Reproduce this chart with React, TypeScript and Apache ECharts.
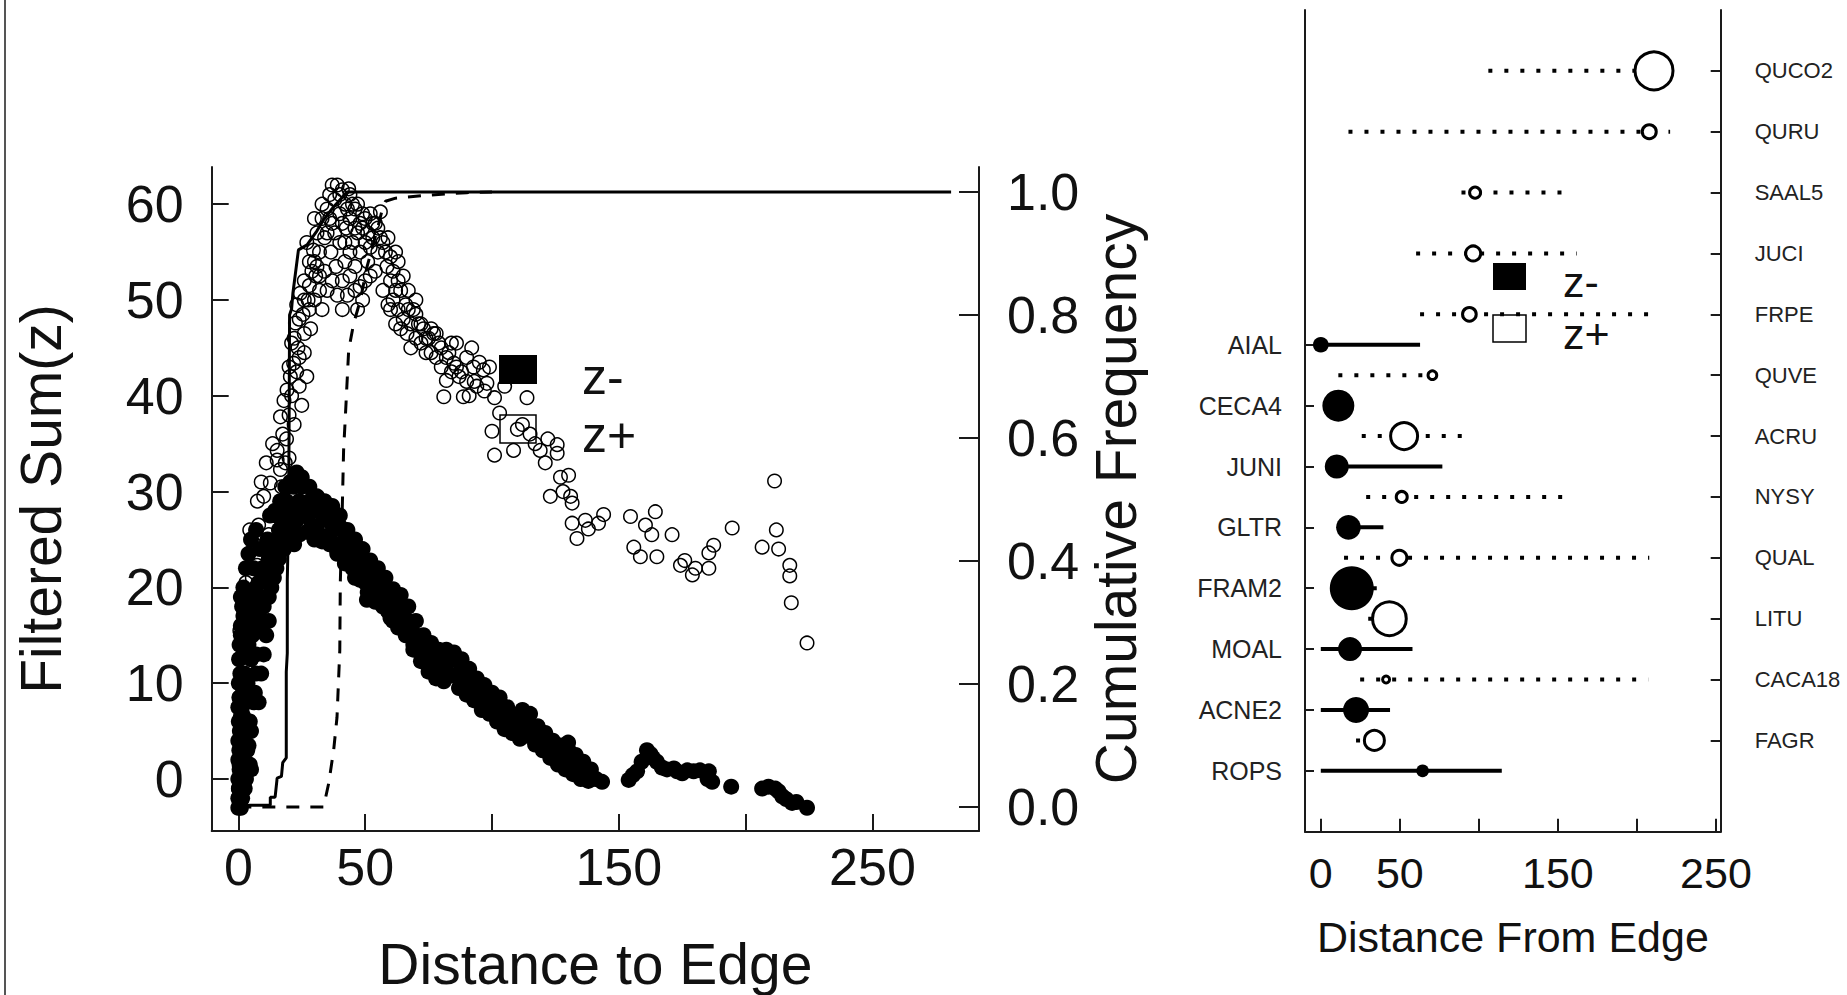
import React, { useEffect, useRef } from 'react';
import * as echarts from 'echarts';

const FONT = "'Liberation Sans', Arial, sans-serif";

// ---------- Left panel data ----------
const zPlusPoints: [number, number][] = [
  [0, -1], [0.3, 1.5], [0.2, 4], [0.8, 6.5], [0.3, 8.5], [1.2, 10.5], [0.5, 12.5], [1.8, 14], [0.6, 15.5], [2.1, 17.6],
  [3.2, 12], [3.8, 15], [5.4, 16.3], [4.5, 18.5], [3, 20.5], [5.5, 21], [7.4, 22.3], [6.3, 24.5], [4.5, 26], [8, 26.5],
  [7.5, 29], [10, 29.5], [9, 31], [12.6, 30.9], [11, 33], [15.3, 33.3], [16.6, 32.3], [13.5, 35], [14, 27.5], [12, 25.5],
  [15.3, 34.3], [16.6, 37.8], [17.5, 36], [18, 39.5], [19.2, 40.6], [20, 38], [20.5, 42], [21.8, 43.4], [21, 45.5], [22.5, 47.6],
  [23.5, 45], [23, 49.5], [24.4, 50.7], [25.5, 48.5], [26, 52], [27.5, 50], [28, 54], [29.6, 55.2], [30.5, 52.5], [31, 57],
  [32, 55], [33, 58.5], [34, 56.5], [19, 35.5], [18.5, 33], [17, 30.5], [20, 33.5], [22, 37], [24, 41], [26, 44.5],
  [28.5, 47], [27, 42], [25, 39],
  [20, 43], [22, 46], [24, 48], [26, 50], [28, 51.5], [30, 54], [24, 44], [26, 46.5], [28, 49], [30, 50],
  [32, 52.5], [33, 49], [35, 51], [37, 52], [21, 40], [23, 42.5],
  [35, 59.5], [36, 61], [37, 58], [38, 60.5], [39, 62], [40, 59], [41, 61.5], [42, 60], [43.5, 61.6], [42.5, 57.5],
  [44, 58.5], [45, 56], [46, 59.5], [47, 57], [48, 55], [49, 57.5], [50, 56], [51, 54], [52, 59], [53, 56.5],
  [54, 58], [55, 55], [56, 59.2], [57, 56], [36.5, 55], [38.5, 53.5], [40, 56], [42, 54], [44, 52.5], [46, 53.5],
  [48, 51.4], [50, 52], [47, 49], [49, 50], [52, 52.5], [54, 53], [34, 53], [32, 51], [39, 50.5], [41, 52],
  [33, 60], [35, 57], [37, 62], [38, 57], [40, 61], [41, 58], [43, 59.5], [44, 61], [45, 60], [46, 57.5],
  [47, 60], [48, 58], [49, 59], [50, 58.5], [51, 57], [52, 55.5], [53, 58], [55, 57.5], [56, 56.5], [58, 55],
  [59, 56.5], [60, 54.5], [61, 53], [62, 55], [63, 52], [30, 58.5], [29, 53], [27, 56], [31, 53.5], [36, 58.5],
  [42, 56], [44, 55], [46, 51], [43, 50.5], [41, 49],
  [58.6, 53.5], [57, 51], [59, 49.5], [60, 52], [61, 50], [62, 47.5], [63, 49], [64, 51], [65, 48], [66.5, 46.5],
  [67, 49], [68, 47.5], [69, 49], [70, 46], [71, 47.5], [72, 45.5], [73, 47], [74, 44.5], [75, 46], [76, 47],
  [77, 46.5], [78, 44], [79, 45.5], [80, 43], [81, 39.9], [82, 41.6], [83, 44.5], [84, 42.5], [85, 43.4], [86, 45.5],
  [87, 42], [88.7, 39.9], [90, 41.5], [92, 45], [92.7, 43], [94, 41], [96.6, 42.7], [98, 41.3], [99, 43], [101, 39.8],
  [103, 38.2], [100, 36.3], [101, 33.8],
  [60, 49], [62, 51], [64, 47], [66, 49.5], [68, 45], [70, 48.5], [72, 47.5], [74, 46], [76, 44.5], [78, 46.5],
  [80, 45], [82, 44], [84, 45.5], [86, 43], [88, 42.5], [90, 44], [91, 40], [93, 41.5], [95, 43.5], [97, 40.5],
  [63, 54], [65, 52.5], [67, 51], [70, 50],
  [105, 41], [108.5, 34.3], [110, 36.5], [113.8, 39.8], [112, 37], [115, 36], [117, 35], [119, 34.3], [121, 33], [122, 35.5],
  [125.7, 34.9], [125.7, 34], [123, 29.5], [127, 31.5], [128, 30], [130.2, 31.7], [131, 29.5], [131.6, 28.8], [131.6, 26.7], [133.5, 25.1],
  [136.8, 27], [138, 26.1], [142, 26.7], [144, 27.6],
  [154.6, 27.4], [164.4, 27.9], [160.5, 26.5], [163, 25.5], [171, 25.5], [155.9, 24.2], [158.5, 23.2], [165, 23.2], [174.3, 22.3], [176, 22.8],
  [179, 21.3], [180.2, 22], [185.5, 22], [185.5, 23.6], [187.4, 24.4], [194.7, 26.2], [211.4, 31.1], [212.1, 26], [206.5, 24.2], [213, 24],
  [217.4, 22.3], [217.4, 21.2], [218, 18.4], [224.2, 14.2],
];

const zMinusPoints: [number, number][] = [
  [0, -3], [0, -2], [0.3, -1], [0, 0], [0.5, 1], [0, 2], [0.4, 3], [0, 4], [0.6, 5], [0.2, 6],
  [0, 7.5], [0.5, 8.5], [0.2, 10], [0.8, 11], [0.3, 12.5], [0.5, 14], [1, 15], [1.5, 0.5], [1.2, 2.5], [1.6, 4.5],
  [1.3, 7], [1.8, 9], [1, 16], [1.5, 18], [2, 20], [2.5, -1], [1.5, -2], [3.5, 3], [4.5, 1.5], [5, 5],
  [6, 8], [7, 11], [2, 13], [3, 22], [4, 23.5], [5, 25], [6, 22], [7, 26],
  [1, 19], [2, 17], [3, 15], [4, 14], [5, 18], [6, 16], [7, 20], [8, 17], [9, 19], [10, 22],
  [11, 24], [12, 19], [13, 23], [14, 21], [15, 25], [16, 23], [17, 27], [18, 24], [19, 29], [20, 26],
  [22, 24.5], [23, 27], [8, 8], [9, 11], [10, 13], [11, 15], [12, 16.5], [3, 0], [4, 3.5], [2, 6.5],
  [3, 5.5], [5, 1], [1, -3], [2, 1.5],
  [2.5, 5], [3, 8], [2.5, 11], [3.5, 13], [2.8, 16], [4, 18.5], [3.6, 10], [4.5, 6], [5, 12.5], [5.5, 15],
  [6, 19], [6.5, 9], [7, 13], [7.5, 17], [8, 20.5], [8.5, 24], [9, 15.5], [9.5, 22], [10, 18], [11, 21],
  [11.5, 25], [12, 23], [12.5, 27.5], [13, 20], [14, 24.5], [14.5, 28], [15, 22], [16, 26], [16.5, 29], [17, 24],
  [18, 27.5], [18.5, 30.5], [19, 25], [20, 28], [20.5, 31], [21.5, 26], [21.8, 30.5], [22.5, 28.5], [23, 32], [24, 29],
  [25, 30.5], [26, 28], [27.1, 27.4], [28, 29], [29, 26.5], [30, 28], [31, 26], [32, 28.5], [33.6, 27.4], [34, 25],
  [35, 27], [36, 25.5], [37, 27.5], [38, 24.5], [38.9, 23.9], [39, 26.5], [40.2, 26.3], [41, 24], [42, 25.5], [43, 23],
  [44, 24.5], [45.5, 22.9], [46, 21], [47, 23.5], [48, 21.5], [49, 22.5], [50, 20.5], [50.7, 18.7], [51, 22], [52, 21.1],
  [53, 19.5], [54, 21], [55, 19], [56, 20], [57, 18.5], [58.6, 19.4], [59, 17.5], [60, 18.5], [61, 16.5], [62, 18],
  [63.9, 18], [64, 16], [65, 17], [66, 15], [67, 16.5], [67.8, 15.6], [69, 14], [70, 15], [71, 13.5], [72, 14.5],
  [73, 13], [74.4, 13.5], [75, 12], [76, 13], [77, 11.5], [78, 12.5], [79, 11], [80, 12], [82.3, 12.1], [83, 11],
  [84, 12.5], [86.2, 12.4], [87, 10.8], [88, 11.5], [89, 10], [90, 10.8], [91.5, 10], [92, 9], [93, 9.5], [94, 8.5],
  [95, 9.2], [96, 8], [97, 8.8], [99.4, 8.2], [100, 7], [101, 7.8], [102, 6.8], [103, 7.5], [104.6, 7.2], [104.6, 6.5],
  [106, 6], [107, 5.5], [108.6, 4.8], [110, 5.5], [112, 5.8], [114.5, 5.8], [113.8, 6.5], [116, 4.5], [117, 5], [119, 4.1],
  [120, 3.5], [122, 3.2], [124.3, 3], [126, 2.5], [128, 2.2], [130.2, 3], [130.9, 1.6], [132.2, 1.3], [134, 1], [135.5, 0.8],
  [137.5, 0.6], [139, 0.4], [141, 0], [143.4, -0.3],
  [24, 25.5], [27, 25.8], [30, 25], [33, 24.8], [36, 24.5], [39, 23.5], [42, 22.5], [45, 22], [48, 20.8], [51, 19.5],
  [54, 18.5], [57, 18], [60, 16.8], [63, 15.8], [66, 15.2], [69, 13.5], [72, 12.3], [75, 11.2], [78, 10.5], [81, 10.2],
  [84, 10.8], [87, 9.5], [90, 8.8], [93, 8.2], [96, 7.2], [99, 6.8], [102, 6], [105, 5.2], [108, 4.8], [111, 4.2],
  [114, 4.5], [117, 3.6], [120, 3], [123, 2.2], [126, 1.5], [129, 1], [132, 0.5], [135, 0], [138, -0.2],
  [25, 31.5], [28, 30.5], [31, 29.5], [34, 29], [37, 28.5], [40, 27.5], [43, 26], [46, 25], [49, 24], [52, 22.8],
  [55, 22], [58, 21], [61, 19.8], [64, 19.2], [67, 18], [70, 16.5], [73, 15], [76, 14.2], [79, 13.5], [82, 13.5],
  [85, 13.2], [88, 12.5], [91, 11.5], [94, 10.5], [97, 9.8], [100, 9], [103, 8.5], [106, 7.5], [109, 6.5], [112, 7.2],
  [115, 6.8], [118, 5.5], [121, 4.8], [124, 4], [127, 3.5], [130, 3.8], [133, 2.5], [136, 1.8], [139, 1],
  [153.9, -0.1], [155.5, 0.4], [157.2, 0.8], [159, 1.8], [161.1, 3], [162.5, 2.6], [163.5, 2.2], [165, 1.8], [167, 1.2], [169, 1],
  [171.7, 1.1], [173, 0.8], [175, 0.6], [177, 0.9], [179.5, 0.8], [182, 0.9], [185.5, 0.8], [186.8, -0.3], [185, 0], [194.3, -0.8],
  [206.5, -1], [209, -0.8], [211.7, -1], [213, -1.3], [214.4, -1.8], [216, -2.1], [218.3, -2.5], [220, -2.4], [224.2, -3],
];

const cumSolid: [number, number][] = [
  [0, 0.003], [12.6, 0.003], [12.6, 0.016], [14.5, 0.016], [15.3, 0.047], [17, 0.05], [17.5, 0.072], [18.9, 0.08],
  [18.9, 0.22], [19.3, 0.25], [19.3, 0.37], [19.7, 0.45], [20, 0.6], [20.2, 0.8], [21, 0.81], [21.5, 0.835],
  [23.7, 0.906], [27.1, 0.914], [31, 0.937], [33.6, 0.955], [37.6, 0.976], [42.9, 1.0], [281, 1.0],
];

const cumDashed: [number, number][] = [
  [0, 0.0], [33.6, 0.0], [35.6, 0.038], [37.6, 0.093], [38.9, 0.146], [40, 0.255], [40.2, 0.364], [40.9, 0.472],
  [41.5, 0.58], [42.2, 0.635], [43.5, 0.743], [45.5, 0.787], [48.1, 0.824], [50.7, 0.878], [54.7, 0.938], [56.7, 0.971],
  [58, 0.985], [62, 0.99], [75, 0.995], [90, 0.999], [100, 1.0],
];

const leftXTicks = [0, 50, 100, 150, 200, 250];
const leftXLabels = [0, 50, 150, 250];
const sumTicks = [0, 10, 20, 30, 40, 50, 60];
const freqTicks = [0, 0.2, 0.4, 0.6, 0.8, 1.0];

// ---------- Right panel data ----------
const negSpecies = ['AIAL', 'CECA4', 'JUNI', 'GLTR', 'FRAM2', 'MOAL', 'ACNE2', 'ROPS'];
const negRow = [15, 13, 11, 9, 7, 5, 3, 1];
const negCenter = [0, 11.1, 10.1, 17.5, 19.6, 18.5, 22.3, 64.4];
const negLow = [-1, 5, 5, 12, 10, 0, 0, 0];
const negHigh = [62.8, 18, 76.9, 39.6, 35.4, 58, 43.8, 114.5];
const negWeight = [15.7, 32, 24, 24.7, 44, 24, 26, 12.7];

const posSpecies = ['QUCO2', 'QURU', 'SAAL5', 'JUCI', 'FRPE', 'QUVE', 'ACRU', 'NYSY', 'QUAL', 'LITU', 'CACA18', 'FAGR'];
const posRow = [24, 22, 20, 18, 16, 14, 12, 10, 8, 6, 4, 2];
const posCenter = [210.8, 207.8, 97.6, 96.4, 94, 70.6, 52.7, 51.2, 49.7, 43.4, 41.3, 33.9];
const posLow = [106, 17.5, 89, 60.3, 62.8, 11.1, 25.9, 28.7, 14.7, 30, 24.9, 22.3];
const posHigh = [210.8, 221, 158.8, 161.9, 210, 70.6, 96.5, 154.5, 207.8, 57.5, 207.2, 40];
const posWeight = [41, 17, 14, 18, 16.7, 11.7, 30, 14, 18, 36.7, 10, 23];

const rightXTicks = [0, 50, 100, 150, 200, 250];
const rightXLabels = [0, 50, 150, 250];
const ROW_MIN = -1;
const ROW_COUNT = 28;

export default function App() {
  const ref = useRef<HTMLDivElement>(null);

  useEffect(() => {
    const el = ref.current;
    if (!el) return;
    const chart = echarts.init(el, null, { renderer: 'svg' });

    const rowKeys = Array.from({ length: ROW_COUNT }, (_, i) => String(i + ROW_MIN));
    const negLabelMap: Record<string, string> = {};
    negSpecies.forEach((n, i) => { negLabelMap[String(negRow[i])] = n; });
    const posLabelMap: Record<string, string> = {};
    posSpecies.forEach((n, i) => { posLabelMap[String(posRow[i])] = n; });
    const rowIdx = (r: number) => r - ROW_MIN;

    const axisLine = { show: true, onZero: false, lineStyle: { color: '#1a1a1a', width: 2 } };
    const tickLine = { color: '#1a1a1a', width: 2 };
    const black = '#111';

    const rangeRender = (dash: number[] | null) => (params: any, api: any) => {
      const a = api.coord([api.value(0), api.value(2)]);
      const b = api.coord([api.value(1), api.value(2)]);
      return {
        type: 'line',
        shape: { x1: a[0], y1: a[1], x2: b[0], y2: b[1] },
        style: { stroke: '#000', lineWidth: 4, lineDash: dash || undefined, lineCap: 'butt' },
      };
    };

    const option: any = {
      animation: false,
      backgroundColor: '#fff',
      textStyle: { fontFamily: FONT, color: black },
      grid: [
        { left: 211.7, top: 167, width: 767.3, height: 664, outerBoundsMode: 'none', containLabel: false },
        { left: 1305, top: 10, width: 415.7, height: 821.7, outerBoundsMode: 'none', containLabel: false },
      ],
      xAxis: [
        {
          type: 'value', gridIndex: 0, min: -10.5, max: 292,
          axisLine, splitLine: { show: false },
          axisTick: { show: true, inside: true, length: 17, lineStyle: tickLine, customValues: leftXTicks },
          axisLabel: { customValues: leftXLabels, fontSize: 52, fontFamily: FONT, color: black, margin: 10 },
          name: 'Distance to Edge', nameLocation: 'middle', nameGap: 104,
          nameTextStyle: { fontSize: 57, fontFamily: FONT, color: black },
        },
        {
          type: 'value', gridIndex: 1, min: -10, max: 253,
          axisLine, splitLine: { show: false },
          axisTick: { show: true, inside: true, length: 13, lineStyle: tickLine, customValues: rightXTicks },
          axisLabel: { customValues: rightXLabels, fontSize: 43, fontFamily: FONT, color: black, margin: 20 },
          name: 'Distance From Edge', nameLocation: 'middle', nameGap: 84,
          nameTextStyle: { fontSize: 43, fontFamily: FONT, color: black },
        },
      ],
      yAxis: [
        {
          type: 'value', gridIndex: 0, position: 'left', min: -5.43, max: 63.88,
          axisLine, splitLine: { show: false },
          axisTick: { show: true, inside: true, length: 17, lineStyle: tickLine, customValues: sumTicks },
          axisLabel: { customValues: sumTicks, fontSize: 52, fontFamily: FONT, color: black, margin: 28 },
          name: 'Filtered Sum(z)', nameLocation: 'middle', nameGap: 142, nameRotate: 90,
          nameTextStyle: { fontSize: 57, fontFamily: FONT, color: black },
        },
        {
          type: 'value', gridIndex: 0, position: 'right', min: -0.039, max: 1.0407,
          axisLine, splitLine: { show: false },
          axisTick: { show: true, inside: true, length: 20, lineStyle: tickLine, customValues: freqTicks },
          axisLabel: { customValues: freqTicks, fontSize: 52, fontFamily: FONT, color: black, margin: 28, formatter: (v: number) => v.toFixed(1) },
          name: 'Cumulative Frequency', nameLocation: 'middle', nameGap: 108, nameRotate: 90,
          nameTextStyle: { fontSize: 57, fontFamily: FONT, color: black },
        },
        {
          type: 'category', gridIndex: 1, position: 'left', data: rowKeys, boundaryGap: false,
          axisLine, splitLine: { show: false },
          axisTick: { show: true, inside: true, length: 9, lineStyle: tickLine, interval: (i: number, v: string) => !!negLabelMap[v] },
          axisLabel: { interval: (i: number, v: string) => !!negLabelMap[v], formatter: (v: string) => negLabelMap[v] || '', fontSize: 25, fontFamily: FONT, color: '#222', margin: 23 },
        },
        {
          type: 'category', gridIndex: 1, position: 'right', data: rowKeys, boundaryGap: false,
          axisLine, splitLine: { show: false },
          axisTick: { show: true, inside: true, length: 10, lineStyle: tickLine, interval: (i: number, v: string) => !!posLabelMap[v] },
          axisLabel: { interval: (i: number, v: string) => !!posLabelMap[v], formatter: (v: string) => posLabelMap[v] || '', fontSize: 22, fontFamily: FONT, color: '#222', margin: 34 },
        },
      ],
      series: [
        {
          name: 'z-', type: 'scatter', xAxisIndex: 0, yAxisIndex: 0, symbol: 'circle', symbolSize: 16,
          itemStyle: { color: '#000', opacity: 1 }, data: zMinusPoints, z: 2,
        },
        {
          name: 'z+', type: 'scatter', xAxisIndex: 0, yAxisIndex: 0, symbol: 'circle', symbolSize: 13.5,
          itemStyle: { color: 'rgba(255,255,255,0)', borderColor: '#000', borderWidth: 1.5, opacity: 1 }, data: zPlusPoints, z: 3,
        },
        {
          name: 'cum z-', type: 'line', xAxisIndex: 0, yAxisIndex: 1, symbol: 'none', showSymbol: false,
          lineStyle: { color: '#000', width: 3 }, data: cumSolid, z: 4,
        },
        {
          name: 'cum z+', type: 'line', xAxisIndex: 0, yAxisIndex: 1, symbol: 'none', showSymbol: false,
          lineStyle: { color: '#000', width: 3, type: [13, 11] }, data: cumDashed, z: 4,
        },
        {
          name: 'range z-', type: 'custom', xAxisIndex: 1, yAxisIndex: 2,
          renderItem: rangeRender(null), encode: { x: [0, 1], y: 2 },
          data: negSpecies.map((_, i) => [negLow[i], negHigh[i], rowIdx(negRow[i])]), z: 2,
        },
        {
          name: 'range z+', type: 'custom', xAxisIndex: 1, yAxisIndex: 2,
          renderItem: rangeRender([4, 12]), encode: { x: [0, 1], y: 2 },
          data: posSpecies.map((_, i) => [posLow[i], posHigh[i], rowIdx(posRow[i])]), z: 2,
        },
        {
          name: 'species z-', type: 'scatter', xAxisIndex: 1, yAxisIndex: 2, symbol: 'circle',
          itemStyle: { color: '#000', opacity: 1 }, z: 3,
          data: negSpecies.map((n, i) => ({ name: n, value: [negCenter[i], rowIdx(negRow[i])], symbolSize: negWeight[i] })),
        },
        {
          name: 'species z+', type: 'scatter', xAxisIndex: 1, yAxisIndex: 2, symbol: 'circle',
          itemStyle: { color: '#fff', borderColor: '#000', borderWidth: 3, opacity: 1 }, z: 3,
          data: posSpecies.map((n, i) => ({ name: n, value: [posCenter[i], rowIdx(posRow[i])], symbolSize: posWeight[i] - 3 })),
        },
      ],
      graphic: [
        { type: 'line', shape: { x1: 5, y1: 0, x2: 5, y2: 995 }, style: { stroke: '#555', lineWidth: 2 } },
        { type: 'rect', shape: { x: 499, y: 355, width: 38, height: 29 }, style: { fill: '#000' } },
        { type: 'rect', shape: { x: 500, y: 415, width: 36, height: 28 }, style: { fill: '#fff', stroke: '#000', lineWidth: 1.5 } },
        { type: 'text', x: 582, y: 377, style: { text: 'z-', fontSize: 50, fontFamily: FONT, fill: black, verticalAlign: 'middle' } },
        { type: 'text', x: 582, y: 435, style: { text: 'z+', fontSize: 50, fontFamily: FONT, fill: black, verticalAlign: 'middle' } },
        { type: 'rect', shape: { x: 1493, y: 263, width: 33, height: 27 }, style: { fill: '#000' } },
        { type: 'rect', shape: { x: 1493, y: 315, width: 33, height: 27 }, style: { fill: '#fff', stroke: '#000', lineWidth: 1.5 } },
        { type: 'text', x: 1563, y: 282, style: { text: 'z-', fontSize: 43, fontFamily: FONT, fill: black, verticalAlign: 'middle' } },
        { type: 'text', x: 1563, y: 334, style: { text: 'z+', fontSize: 43, fontFamily: FONT, fill: black, verticalAlign: 'middle' } },
      ],
    };

    chart.setOption(option);
    return () => chart.dispose();
  }, []);

  return (
    <div
      ref={ref}
      style={{ position: 'fixed', left: 0, top: 0, width: 1847, height: 995, background: '#fff' }}
    />
  );
}
